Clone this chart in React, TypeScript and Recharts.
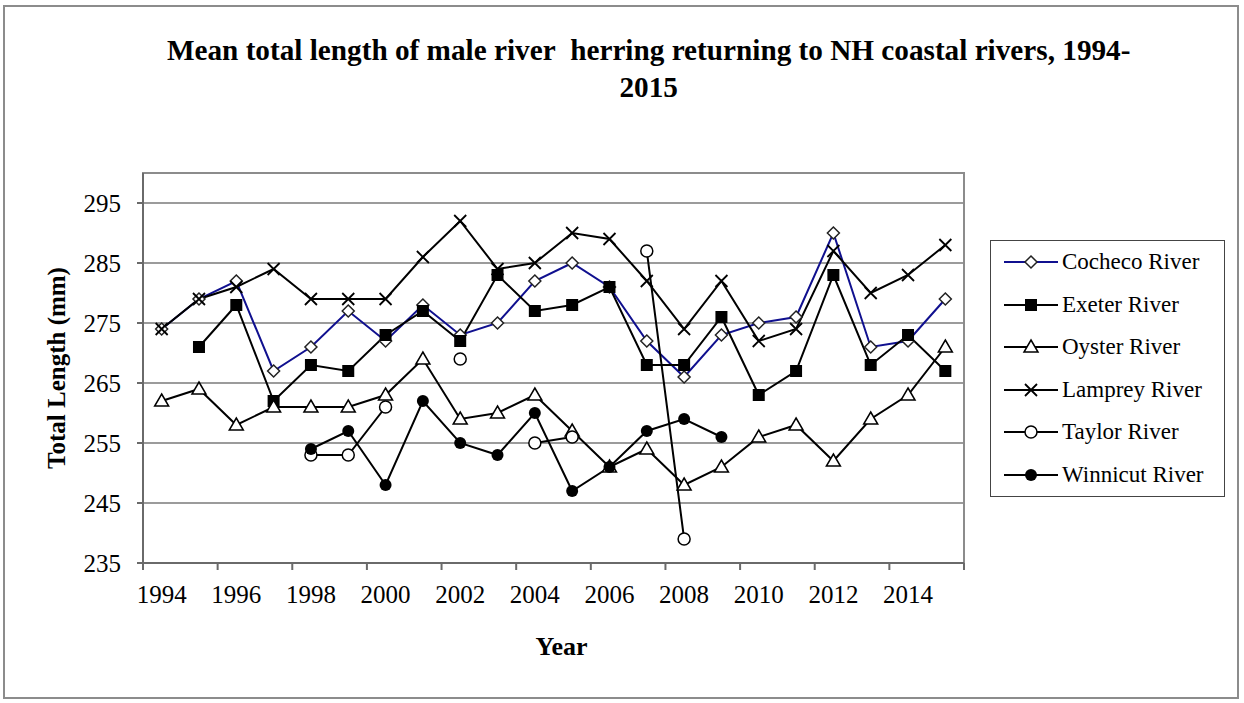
import { CartesianGrid, Legend, Line, LineChart, ReferenceArea, XAxis, YAxis } from "recharts"

const years = [1994, 1995, 1996, 1997, 1998, 1999, 2000, 2001, 2002, 2003, 2004, 2005, 2006, 2007, 2008, 2009, 2010, 2011, 2012, 2013, 2014, 2015]
const cocheco = [274, 279, 282, 267, 271, 277, 272, 278, 273, 275, 282, 285, 281, 272, 266, 273, 275, 276, 290, 271, 272, 279]
const exeter = [null, 271, 278, 262, 268, 267, 273, 277, 272, 283, 277, 278, 281, 268, 268, 276, 263, 267, 283, 268, 273, 267]
const oyster = [262, 264, 258, 261, 261, 261, 263, 269, 259, 260, 263, 257, 251, 254, 248, 251, 256, 258, 252, 259, 263, 271]
const lamprey = [274, 279, 281, 284, 279, 279, 279, 286, 292, 284, 285, 290, 289, 282, 274, 282, 272, 274, 287, 280, 283, 288]
const taylor = [null, null, null, null, 253, 253, 261, null, 269, null, 255, 256, null, 287, 239, null, null, null, null, null, null, null]
const winnicut = [null, null, null, null, 254, 257, 248, 262, 255, 253, 260, 247, 251, 257, 259, 256, null, null, null, null, null, null]

const yTicks = [235, 245, 255, 265, 275, 285, 295]
// tick marks sit between categories, labels every other year
const xTickMarks = [1993.5, 1995.5, 1997.5, 1999.5, 2001.5, 2003.5, 2005.5, 2007.5, 2009.5, 2011.5, 2013.5, 2015.5]

const data = years.map((year, i) => ({
  year,
  cocheco: cocheco[i],
  exeter: exeter[i],
  oyster: oyster[i],
  lamprey: lamprey[i],
  taylor: taylor[i],
  winnicut: winnicut[i],
}))

const FONT = '"Times New Roman", "Liberation Serif", serif'
const PLOT_LEFT = 143
const PLOT_RIGHT = 964
const PLOT_TOP = 173
const PLOT_BOTTOM = 563
const HALF_STEP = (PLOT_RIGHT - PLOT_LEFT) / (years.length * 2)

type Shape = "diamond" | "square" | "triangle" | "cross" | "circle" | "dot"

function Marker({ shape, cx, cy }: { shape: Shape; cx: number; cy: number }) {
  const s = 6
  switch (shape) {
    case "diamond":
      return <path d={`M${cx},${cy - s}L${cx + s},${cy}L${cx},${cy + s}L${cx - s},${cy}Z`} fill="#fff" stroke="#222" strokeWidth={1.5} />
    case "square":
      return <rect x={cx - s} y={cy - s} width={s * 2} height={s * 2} fill="#000" />
    case "triangle":
      return <path d={`M${cx},${cy - s - 1}L${cx + s + 1},${cy + s - 1}L${cx - s - 1},${cy + s - 1}Z`} fill="#fff" stroke="#000" strokeWidth={1.5} />
    case "cross":
      return <path d={`M${cx - s},${cy - s}L${cx + s},${cy + s}M${cx + s},${cy - s}L${cx - s},${cy + s}`} stroke="#000" strokeWidth={1.8} />
    case "circle":
      return <circle cx={cx} cy={cy} r={s} fill="#fff" stroke="#000" strokeWidth={1.5} />
    default:
      return <circle cx={cx} cy={cy} r={s} fill="#000" />
  }
}

const series: { key: string; name: string; color: string; shape: Shape }[] = [
  { key: "cocheco", name: "Cocheco River", color: "#10108f", shape: "diamond" },
  { key: "exeter", name: "Exeter River", color: "#000", shape: "square" },
  { key: "oyster", name: "Oyster River", color: "#000", shape: "triangle" },
  { key: "lamprey", name: "Lamprey River", color: "#000", shape: "cross" },
  { key: "taylor", name: "Taylor River", color: "#000", shape: "circle" },
  { key: "winnicut", name: "Winnicut River", color: "#000", shape: "dot" },
]

const dotFor = (shape: Shape) => (p: any) => {
  if (p.cy == null || p.value == null || p.payload?.[p.dataKey] == null) return <g key={p.key ?? p.index} />
  return (
    <g key={p.key ?? p.index}>
      <Marker shape={shape} cx={p.cx} cy={p.cy} />
    </g>
  )
}

function XTick({ x, y, payload }: any) {
  const label = payload.value + 0.5
  if (label > years[years.length - 1]) return <g />
  return (
    <text x={x + HALF_STEP} y={y + 31} textAnchor="middle" fontFamily={FONT} fontSize={25} fill="#000">
      {label}
    </text>
  )
}

function LegendBox() {
  return (
    <div style={{ border: "1.5px solid #444", width: 235, height: 257, boxSizing: "border-box", background: "#fff", paddingTop: 0 }}>
      {series.map((s) => (
        <div key={s.key} style={{ display: "flex", alignItems: "center", height: 42.5 }}>
          <svg width={70} height={20} style={{ flex: "none" }}>
            <line x1={13} x2={67} y1={10} y2={10} stroke={s.color} strokeWidth={2} />
            <Marker shape={s.shape} cx={40} cy={10} />
          </svg>
          <span style={{ fontFamily: FONT, fontSize: 23, color: "#000", marginLeft: 1, whiteSpace: "nowrap" }}>{s.name}</span>
        </div>
      ))}
    </div>
  )
}

export default function App() {
  return (
    <div style={{ position: "absolute", left: 0, top: 0, width: 1244, height: 703, background: "#fff" }}>
      <div style={{ position: "absolute", left: 3, top: 5, width: 1236, height: 694, border: "2px solid #8c8c8c", boxSizing: "border-box" }} />
      <div
        style={{
          position: "absolute",
          left: 0,
          top: 31,
          width: 1332,
          textAlign: "center",
          fontFamily: FONT,
          fontWeight: "bold",
          fontSize: 30,
          lineHeight: "37px",
          whiteSpace: "nowrap",
          transform: "scaleX(0.974)",
          transformOrigin: "0 0",
          color: "#000",
        }}
      >
        Mean total length of male river&nbsp; herring returning to NH coastal rivers, 1994-
        <br />
        2015
      </div>
      <div style={{ position: "absolute", left: 0, top: 0 }}>
        <LineChart
          width={1244}
          height={703}
          data={data}
          margin={{ top: PLOT_TOP, left: PLOT_LEFT - 60, right: 1244 - PLOT_RIGHT, bottom: 703 - PLOT_BOTTOM - 30 }}
        >
          <CartesianGrid vertical={false} stroke="#7a7a7a" strokeWidth={1.5} />
          <ReferenceArea x1={1993.5} x2={2015.5} y1={235} y2={300} fill="none" stroke="#8c8c8c" strokeWidth={2} ifOverflow="visible" />
          <XAxis
            dataKey="year"
            type="number"
            domain={[1993.5, 2015.5]}
            ticks={xTickMarks}
            interval={0}
            height={30}
            tickSize={7}
            tick={<XTick />}
            stroke="#6a6a6a"
            axisLine={{ stroke: "#6a6a6a", strokeWidth: 2 }}
            tickLine={{ stroke: "#6a6a6a", strokeWidth: 2 }}
            allowDataOverflow
            label={({ viewBox }: any) => (
              <text x={viewBox.x + viewBox.width / 2 + 8} y={viewBox.y + 92} textAnchor="middle" fontFamily={FONT} fontWeight="bold" fontSize={26} fill="#000">
                Year
              </text>
            )}
          />
          <YAxis
            type="number"
            domain={[235, 300]}
            ticks={yTicks}
            interval={0}
            width={60}
            tickSize={6}
            tickMargin={16}
            allowDataOverflow
            tick={{ fontFamily: FONT, fontSize: 25, fill: "#000" }}
            axisLine={{ stroke: "#6a6a6a", strokeWidth: 2 }}
            tickLine={{ stroke: "#6a6a6a", strokeWidth: 2 }}
            label={({ viewBox }: any) => {
              const cx = viewBox.x - 18
              const cy = viewBox.y + viewBox.height / 2
              return (
                <text x={cx} y={cy} transform={`rotate(-90, ${cx}, ${cy})`} textAnchor="middle" fontFamily={FONT} fontWeight="bold" fontSize={25} fill="#000">
                  Total Length (mm)
                </text>
              )
            }}
          />
          <Legend
            layout="vertical"
            align="center"
            verticalAlign="middle"
            wrapperStyle={{ left: 990, top: 240, width: 235, height: 257 }}
            content={() => <LegendBox />}
          />
          {series.map((s) => (
            <Line
              key={s.key}
              type="linear"
              dataKey={s.key}
              name={s.name}
              stroke={s.color}
              strokeWidth={2}
              dot={dotFor(s.shape)}
              activeDot={false}
              connectNulls={false}
              isAnimationActive={false}
            />
          ))}
        </LineChart>
      </div>
    </div>
  )
}
